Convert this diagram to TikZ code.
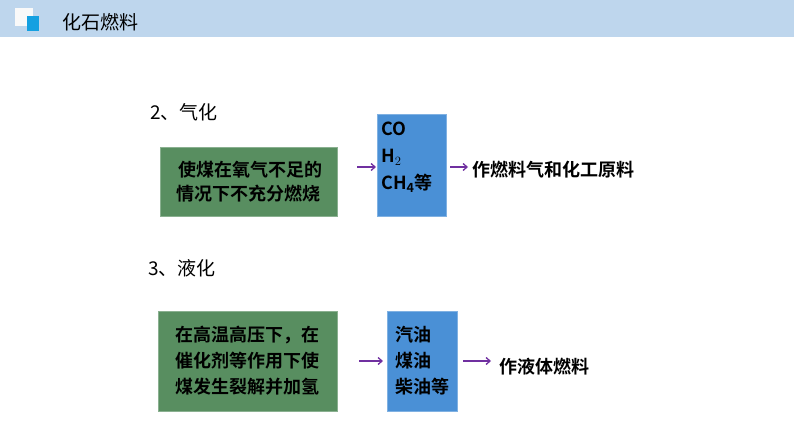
\documentclass[tikz,border=0pt]{standalone}
\usetikzlibrary{arrows.meta}
\usepackage{fontspec}
\newfontfamily\cjk{Noto Sans CJK SC}
\newfontfamily\cjkb{Noto Sans CJK SC Bold}
\definecolor{band}{RGB}{190,214,237}
\definecolor{gbox}{RGB}{88,142,96}
\definecolor{bbox}{RGB}{74,144,214}
\definecolor{arr}{RGB}{112,48,160}
\definecolor{icon}{RGB}{20,160,225}
\begin{document}
\begin{tikzpicture}[x=1pt,y=-1pt,
  txt/.style={font=\cjkb\fontsize{18}{24}\selectfont,inner sep=0,align=left},
  gb/.style={fill=gbox,draw=gbox!70!white,line width=0.6pt},
  bb/.style={fill=bbox,draw=bbox!70!white,line width=0.6pt},
  ar/.style={draw=arr,line width=1.3pt,-{Straight Barb[length=4pt,width=7pt]}}]
\useasboundingbox (0,0) rectangle (794,447);
\fill[band] (0,0) rectangle (794,37);
\fill[white!95!gray] (15,8) rectangle (33,26);
\fill[icon] (27,16) rectangle (39,31);
\node[anchor=west,font=\cjk\fontsize{19}{22}\selectfont,inner sep=0] (title) at (62,22) {化石燃料};
\node[anchor=west,font=\cjk\fontsize{19}{22}\selectfont,inner sep=0] (l2) at (150,112) {2、气化};
\node[anchor=west,font=\cjk\fontsize{19}{22}\selectfont,inner sep=0] (l3) at (148,268) {3、液化};
% row 1
\path[gb] (160,147) rectangle (337,216);
\node[txt,align=center] (g1) at (248.5,181.5) {\,使煤在氧气不足的\\情况下不充分燃烧};
\path[bb] (377,114) rectangle (446,216);
\node[txt,anchor=north west,align=left] (b1) at (381,122) {CO\\[3pt]H$_{\mathrm{2}}$\\[3pt]CH\textsubscript{4}等};
\coordinate (a1s) at (357,167); \coordinate (a1e) at (376,167);
\draw[ar] (a1s) -- (a1e);
\coordinate (a2s) at (450,167); \coordinate (a2e) at (468,167);
\draw[ar] (a2s) -- (a2e);
\node[txt,anchor=west] (t1) at (472,170) {作燃料气和化工原料};
% row 2
\path[gb] (158,311) rectangle (337,411);
\node[txt,align=center] (g2) at (247.5,361) {在高温高压下，在\\[2pt]催化剂等作用下使\\[2pt]煤发生裂解并加氢};
\path[bb] (387,311) rectangle (457,411);
\node[txt,anchor=center] (b2) at (422,361) {汽油\\[2pt]煤油\\[2pt]柴油等};
\coordinate (a3s) at (359,361); \coordinate (a3e) at (383,361);
\draw[ar] (a3s) -- (a3e);
\coordinate (a4s) at (463,361); \coordinate (a4e) at (491,361);
\draw[ar] (a4s) -- (a4e);
\node[txt,anchor=west] (t2) at (499,367) {作液体燃料};
\end{tikzpicture}
\end{document}
